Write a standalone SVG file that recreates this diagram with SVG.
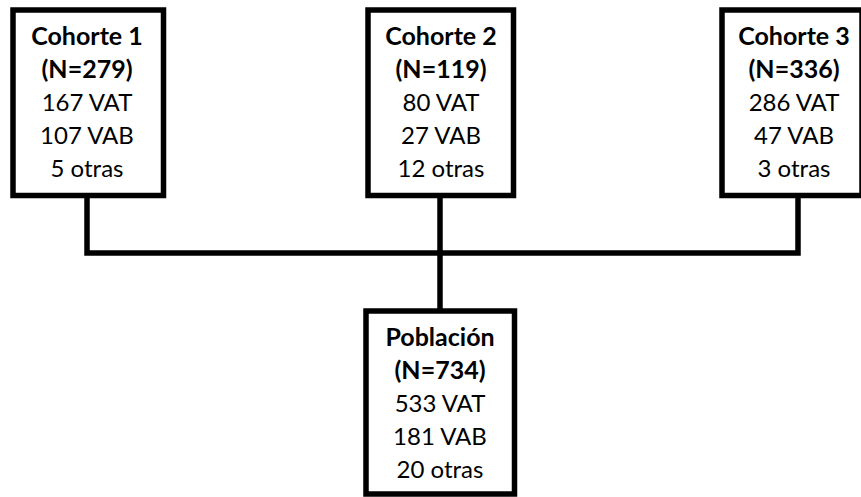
<svg xmlns="http://www.w3.org/2000/svg" width="861" height="497" viewBox="0 0 861 497">
<style>
.box{fill:#fff;stroke:#000;stroke-width:5.5}
.ln{fill:none;stroke:#000;stroke-width:5.5;stroke-linejoin:miter}
text{font-family:Lato,"Open Sans","Liberation Sans",sans-serif;font-size:24px;fill:#000;text-anchor:middle}
.b{font-weight:bold;font-size:25px}
</style>
<rect x="0" y="0" width="861" height="497" fill="#fff"/>
<g id="connectors">
<polyline class="ln" points="87,195 87,253 798,253 798,195"/>
<line class="ln" x1="440" y1="195" x2="440" y2="312"/>
</g>
<g id="cohorte1">
<rect class="box" x="13" y="10" width="150.5" height="185.5"/>
<text class="b" x="87" y="45">Cohorte 1</text>
<text class="b" x="87" y="78">(N=279)</text>
<text x="87" y="111">167 VAT</text>
<text x="87" y="144">107 VAB</text>
<text x="87" y="177">5 otras</text>
</g>
<g id="cohorte2">
<rect class="box" x="368" y="10" width="145.5" height="185.5"/>
<text class="b" x="441" y="45">Cohorte 2</text>
<text class="b" x="441" y="78">(N=119)</text>
<text x="441" y="111">80 VAT</text>
<text x="441" y="144">27 VAB</text>
<text x="441" y="177">12 otras</text>
</g>
<g id="cohorte3">
<rect class="box" x="722" y="10" width="140" height="185.5"/>
<text class="b" x="794" y="45">Cohorte 3</text>
<text class="b" x="794" y="78">(N=336)</text>
<text x="794" y="111">286 VAT</text>
<text x="794" y="144">47 VAB</text>
<text x="794" y="177">3 otras</text>
</g>
<g id="poblacion">
<rect class="box" x="366" y="311" width="148.5" height="183"/>
<text class="b" x="440" y="346">Población</text>
<text class="b" x="440" y="379">(N=734)</text>
<text x="440" y="412">533 VAT</text>
<text x="440" y="445">181 VAB</text>
<text x="440" y="478">20 otras</text>
</g>
</svg>
